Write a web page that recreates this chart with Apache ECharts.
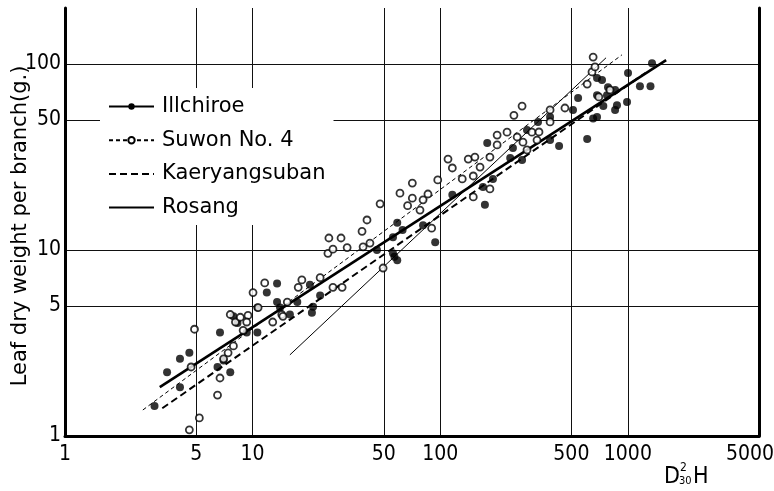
<!DOCTYPE html>
<html><head><meta charset="utf-8">
<script src="https://cdn.jsdelivr.net/npm/echarts@6/dist/echarts.min.js"></script>
<style>html,body{margin:0;padding:0;background:#fff}#c{width:774px;height:491px}</style>
</head><body><div id="c"></div>
<script>
// ---- data ----
const xTicks = [1, 5, 10, 50, 100, 500, 1000, 5000];
const yTicks = [1, 5, 10, 50, 100];
const xRange = [1, 5000];
const yRange = [1, 200];

const seriesNames = ['Illchiroe', 'Suwon No. 4', 'Kaeryangsuban', 'Rosang'];

// regression lines (end points)
const illchiroeLine = [[3.2, 1.83], [1600, 105]];
const suwonLine = [[2.6, 1.38], [930, 112]];
const kaeryangLine = [[3.3, 1.41], [1240, 89.5]];
const rosangLine = [[15.8, 2.73], [765, 108]];

// observations (filled dots)
const illchiroePts = [
  [3.0,1.45],[3.5,2.2],[4.1,2.6],[4.6,2.8],[4.1,1.83],[6.7,3.6],[7.6,2.2],[6.5,2.35],[7.0,2.55],
  [10.6,3.6],[11.9,5.9],[13.5,6.6],[13.5,5.25],[8.3,4.05],[9.3,3.6],[10.6,4.9],[7.9,4.4],
  [20.7,4.6],[22.9,5.7],[20.2,6.5],[17.3,5.25],[15.8,4.5],[14.0,4.9],[21,4.95],
  [46,10],[56,9.6],[59,14],[56,11.7],[57,9.2],[59,8.8],[63,12.8],[81,13.6],[94,11],
  [116,19.8],[173,17.5],[191,24.1],[178,37.6],[169,21.8],
  [543,65.6],[510,56.6],[385,51.9],[332,48.8],[290,44.2],[244,35.3],[236,31.2],[273,30.5],
  [385,39],[430,36.2],[607,39.5],[685,51.9],[685,84],[1345,101],[1002,89.5],[1160,76],[1320,76],
  [728,82],[784,75],[855,72.5],[774,68],[990,62.5],[875,60],[855,56.6],[685,68],[653,51],[740,59.4]
];
// observations (open circles)
const suwonPts = [
  [4.6,1.08],[5.2,1.25],[6.5,1.66],[6.7,2.05],[4.7,2.35],[4.9,3.75],[7.4,2.8],[7.9,3.05],[7.0,2.6],
  [7.6,4.5],[8.1,4.1],[8.6,4.35],[9.45,4.45],[8.9,3.7],[9.3,4.1],[10.7,4.9],[12.8,4.1],[14.3,4.5],
  [18.3,6.9],[17.5,6.3],[22.9,7.1],[26.8,6.3],[30,6.3],[25.2,9.6],[31.9,10.3],[49.6,8.0],[38.8,10.4],
  [11.6,6.65],[10.05,5.9],[15.3,5.25],[14.5,4.4],[47.8,17.7],[40.7,14.5],[38.3,12.6],[25.5,11.6],
  [29.6,11.6],[26.8,10.1],[42.2,10.9],[201,36.7],[201,41.5],[110,30.8],[116,27.6],[141,30.8],
  [153,31.6],[184,31.6],[163,27.9],[150,25],[131,24.1],[97,23.8],[71,22.9],[61,20.2],[71,19],
  [81,18.6],[86,20],[67,17.3],[78,16.4],[90,13.1],[150,19.3],[184,21.3],[273,59.4],[247,53],
  [385,56.6],[462,58],[607,78],[644,90.6],[700,66.5],[227,43],[257,40.5],[276,38],[308,43],
  [336,43.1],[328,39],[290,34.5],[385,48.8],[653,109],[668,96.4],[803,72.5]
];

// ---- chart ----
const L = v => Math.log10(v);
const T = arr => arr.map(p => [L(p[0]), L(p[1])]);
const fmt = v => String(Math.round(Math.pow(10, v)));
const xFmt = v => {
  const s = fmt(v);
  return Math.abs(v - L(xRange[1])) < 1e-9 ? '{last|' + s + '}' : s;
};
const tickFont = "'Liberation Sans Narrow','DejaVu Sans Condensed','Liberation Sans',sans-serif";
const textFont = "'DejaVu Sans','Liberation Sans',sans-serif";
const ink = '#000';

const chart = echarts.init(document.getElementById('c'), null, {renderer: 'canvas'});
chart.setOption({
  animation: false,
  backgroundColor: '#fff',
  grid: {left: 65, right: 15, top: 8, bottom: 55, containLabel: false, outerBoundsMode: 'none'},
  xAxis: [{
    type: 'value', min: L(xRange[0]), max: L(xRange[1]),
    axisLine: {show: true, onZero: false, lineStyle: {color: ink, width: 3}},
    axisTick: {show: false, customValues: xTicks.map(L)},
    axisLabel: {customValues: xTicks.map(L), formatter: xFmt, fontSize: 21, color: ink, fontFamily: tickFont, margin: 8,
      rich: {last: {fontSize: 21, color: ink, fontFamily: tickFont, padding: [0, 18, 0, 0]}}},
    splitLine: {show: true, lineStyle: {color: '#111', width: 1}}
  }],
  yAxis: [{
    type: 'value', min: L(yRange[0]), max: L(yRange[1]), position: 'left',
    axisLine: {show: true, onZero: false, lineStyle: {color: ink, width: 3}},
    axisTick: {show: false, customValues: yTicks.map(L)},
    axisLabel: {customValues: yTicks.map(L), formatter: fmt, fontSize: 21, color: ink, fontFamily: tickFont, margin: 4},
    splitLine: {show: true, lineStyle: {color: '#111', width: 1}},
    name: 'Leaf dry weight per branch(g.)', nameLocation: 'middle', nameGap: 34, nameMoveOverlap: false,
    nameTextStyle: {fontSize: 21, color: ink, fontFamily: textFont, padding: [0, 8, 0, 0]}
  }, {
    type: 'value', min: L(yRange[0]), max: L(yRange[1]), position: 'right',
    axisLine: {show: true, onZero: false, lineStyle: {color: ink, width: 3}},
    axisTick: {show: false}, axisLabel: {show: false}, splitLine: {show: false}
  }],
  legend: {
    orient: 'vertical', left: 100, top: 88,
    backgroundColor: '#fff', padding: [8, 8, 7, 8],
    itemWidth: 45, itemHeight: 8, itemGap: 12.7,
    textStyle: {fontSize: 21, lineHeight: 21, color: ink, fontFamily: textFont, padding: [0, 0, 0, 3]},
    data: [
      {name: seriesNames[0]},
      {name: seriesNames[1]},
      {name: seriesNames[2], itemStyle: {opacity: 0}},
      {name: seriesNames[3], itemStyle: {opacity: 0}}
    ]
  },
  graphic: [{
    type: 'group', left: 664, top: 462,
    children: [
      {type: 'text', x: 0, y: 4, style: {text: 'D', fontSize: 23, fontFamily: tickFont, fill: ink}},
      {type: 'text', x: 16, y: 0, style: {text: '2', fontSize: 12, fontFamily: tickFont, fill: ink}},
      {type: 'text', x: 15, y: 14, style: {text: '30', fontSize: 11, fontFamily: tickFont, fill: ink}},
      {type: 'text', x: 29, y: 4, style: {text: 'H', fontSize: 23, fontFamily: tickFont, fill: ink}}
    ]
  }],
  series: [
    {name: seriesNames[0], type: 'line', data: T(illchiroeLine), symbol: 'circle', showSymbol: false, symbolSize: 8,
     itemStyle: {color: ink}, lineStyle: {color: ink, width: 2.6, type: 'solid'}, z: 3},
    {name: seriesNames[1], type: 'line', data: T(suwonLine), symbol: 'emptyCircle', showSymbol: false, symbolSize: 6,
     itemStyle: {color: ink}, lineStyle: {color: ink, width: 1, type: [4, 3]}, z: 3},
    {name: seriesNames[2], type: 'line', data: T(kaeryangLine), symbol: 'none',
     itemStyle: {color: ink}, lineStyle: {color: ink, width: 2, type: [7, 4]}, z: 3},
    {name: seriesNames[3], type: 'line', data: T(rosangLine), symbol: 'none',
     itemStyle: {color: ink}, lineStyle: {color: ink, width: 1, type: 'solid'}, z: 3},
    {name: 'Illchiroe obs', type: 'scatter', data: T(illchiroePts), symbol: 'circle', symbolSize: 8,
     itemStyle: {color: ink}, z: 4},
    {name: 'Suwon obs', type: 'scatter', data: T(suwonPts), symbol: 'circle', symbolSize: 7,
     itemStyle: {color: '#fff', borderColor: ink, borderWidth: 1.8}, z: 4}
  ]
});
</script></body></html>
